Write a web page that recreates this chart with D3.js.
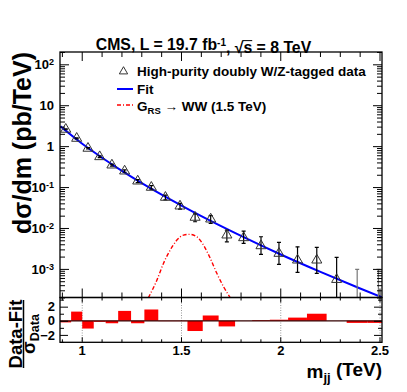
<!DOCTYPE html>
<html>
<head>
<meta charset="utf-8">
<script src="https://cdn.jsdelivr.net/npm/d3@7"></script>
<style>
  body { margin: 0; background: #fff; }
  text { font-family: "Liberation Sans", Arial, Helvetica, sans-serif; font-weight: bold; fill: #000; }
</style>
</head>
<body>
<div id="chart"></div>
<script>
// dijet mass bins (TeV)
const binEdges = [0.890, 0.944, 1.000, 1.058, 1.118, 1.181, 1.246, 1.313, 1.383, 1.455, 1.530,
                  1.607, 1.687, 1.770, 1.856, 1.945, 2.037, 2.132, 2.231, 2.332, 2.438, 2.546];
// dsigma/dm (pb/TeV), 0 = empty bin
const dataValues = [2.58, 1.55, 0.885, 0.551, 0.345, 0.246, 0.140, 0.0984, 0.056, 0.0343, 0.0182,
                    0.0165, 0.00671, 0.00577, 0.00367, 0.00239, 0.00164, 0.00164, 0.00055, 0, 0];
const errHigh = [2.64, 1.59, 0.917, 0.576, 0.364, 0.262, 0.152, 0.108, 0.0633, 0.0398, 0.0222,
                 0.0201, 0.0089, 0.0084, 0.0061, 0.00445, 0.00347, 0.00336, 0.00191, 0.00097, 0.00097];
const errLow = [2.52, 1.51, 0.853, 0.526, 0.326, 0.230, 0.128, 0.0886, 0.0487, 0.0288, 0.0142,
                0.0129, 0.0046, 0.0042, 0.00226, 0.00129, 0.00082, 0.00078, 0, 0, 0];
// (data - fit) / sigma_data per bin
const pullValues = [-0.23, 1.3, -1.1, -0.15, -0.35, 1.4, -0.35, 1.6, -0.05, -0.05, -1.45,
                    0.75, -0.8, 0.0, 0.1, 0.15, 0.45, 1.0, 0.0, -0.3, -0.3];

const fitMass = [0.89, 1.0, 1.1, 1.2, 1.3, 1.4, 1.5, 1.6, 1.8, 2.0, 2.2, 2.4, 2.51];
const fitValues = [3.05, 1.14, 0.521, 0.249, 0.125, 0.0652, 0.0353, 0.0195, 0.00641, 0.00225,
                   0.000845, 0.000332, 0.000202];

const signalMass = [1.333, 1.376, 1.409, 1.443, 1.477, 1.510, 1.540, 1.577, 1.611, 1.645, 1.678, 1.712, 1.746];
const signalValues = [0.000197, 0.00053, 0.00136, 0.00288, 0.00506, 0.00671, 0.00698, 0.00610,
                      0.00382, 0.00181, 0.00078, 0.000366, 0.000197];

const xMajorTicks = [1, 1.5, 2, 2.5];
const xTickLabels = ["1", "1.5", "2", "2.5"];
const yDecades = [100, 10, 1, 0.1, 0.01, 0.001];
const yDecadeLabels = [["10", "2"], ["10", ""], ["1", ""], ["10", "-1"], ["10", "-2"], ["10", "-3"]];
const pullMajorTicks = [-2, 0, 2];
const pullMinorTicks = [-3, -1, 1, 3];

const width = 407, height = 392;
const frame = {left: 60, right: 382, top: 52, split: 297.5, bottom: 342.3};

const svg = d3.select("#chart").append("svg")
    .attr("width", width).attr("height", height)
    .attr("viewBox", [0, 0, width, height]);

svg.append("rect").attr("width", width).attr("height", height).attr("fill", "#fff");

const x = d3.scaleLinear().domain([0.888, 2.51]).range([frame.left, frame.right]);
const y = d3.scaleLog().domain([2e-4, 200]).range([frame.split, frame.top]);
const yPull = d3.scaleLinear().domain([-3.05, 3.3]).range([frame.bottom, frame.split]);

const xMinor = d3.range(9, 26).map(d => d / 10);

const defs = svg.append("defs");
defs.append("clipPath").attr("id", "clipUp")
    .append("rect").attr("x", frame.left).attr("y", frame.top)
    .attr("width", frame.right - frame.left).attr("height", frame.split - frame.top);
defs.append("clipPath").attr("id", "clipLow")
    .append("rect").attr("x", frame.left).attr("y", frame.split)
    .attr("width", frame.right - frame.left).attr("height", frame.bottom - frame.split);

// ---------- upper pad ----------
const up = svg.append("g").attr("clip-path", "url(#clipUp)");

up.append("path")
    .datum(signalMass.map((m, i) => [m, signalValues[i]]))
    .attr("fill", "none")
    .attr("stroke", "#ff0000")
    .attr("stroke-width", 1.4)
    .attr("stroke-dasharray", "4,2,1,2")
    .attr("d", d3.line().x(d => x(d[0])).y(d => y(d[1])).curve(d3.curveMonotoneX));

up.append("path")
    .datum(fitMass.map((m, i) => [m, fitValues[i]]))
    .attr("fill", "none")
    .attr("stroke", "#0000ff")
    .attr("stroke-width", 2)
    .attr("d", d3.line().x(d => x(d[0])).y(d => y(d[1])).curve(d3.curveMonotoneX));

const bins = dataValues.map((v, i) => ({
    m: (binEdges[i] + binEdges[i + 1]) / 2,
    v, hi: errHigh[i], lo: errLow[i], empty: v === 0
}));

const yClamp = v => v <= 0 ? frame.split + 2 : y(v);

const errs = up.append("g").selectAll("g").data(bins).join("g")
    .attr("stroke", d => d.empty ? "#777" : "#000")
    .attr("stroke-width", 1.2);
errs.append("line")
    .attr("x1", d => x(d.m)).attr("x2", d => x(d.m))
    .attr("y1", d => yClamp(d.lo)).attr("y2", d => y(d.hi));
errs.append("line")
    .attr("x1", d => x(d.m) - 2).attr("x2", d => x(d.m) + 2)
    .attr("y1", d => y(d.hi)).attr("y2", d => y(d.hi));
errs.filter(d => d.lo > 0).append("line")
    .attr("x1", d => x(d.m) - 2).attr("x2", d => x(d.m) + 2)
    .attr("y1", d => y(d.lo)).attr("y2", d => y(d.lo));

up.append("g").selectAll("path").data(bins.filter(d => !d.empty)).join("path")
    .attr("transform", d => `translate(${x(d.m)},${y(d.v)})`)
    .attr("d", d3.symbol(d3.symbolTriangle, 44))
    .attr("fill", "none")
    .attr("stroke", "#333")
    .attr("stroke-width", 1);

// ---------- lower pad ----------
const low = svg.append("g").attr("clip-path", "url(#clipLow)");

low.append("g").selectAll("line").data(xMajorTicks).join("line")
    .attr("x1", d => x(d)).attr("x2", d => x(d))
    .attr("y1", frame.split).attr("y2", frame.bottom)
    .attr("stroke", "#999").attr("stroke-width", 1).attr("stroke-dasharray", "1,1.5");

low.append("g").selectAll("rect").data(pullValues).join("rect")
    .attr("x", (d, i) => x(binEdges[i]))
    .attr("width", (d, i) => x(binEdges[i + 1]) - x(binEdges[i]))
    .attr("y", d => yPull(Math.max(0, d)))
    .attr("height", d => Math.abs(yPull(d) - yPull(0)))
    .attr("fill", "#ff0000");

low.append("line")
    .attr("x1", frame.left).attr("x2", frame.right)
    .attr("y1", yPull(0)).attr("y2", yPull(0))
    .attr("stroke", "#300").attr("stroke-width", 1.2);

// ---------- axes ----------
function inwardX(g, yPos, dir, majorLen, minorLen) {
    g.selectAll(null).data(xMinor).join("line")
        .attr("x1", d => x(d)).attr("x2", d => x(d))
        .attr("y1", yPos)
        .attr("y2", d => yPos + dir * (xMajorTicks.some(t => Math.abs(t - d) < 1e-6) ? majorLen : minorLen))
        .attr("stroke", "#000").attr("stroke-width", 1);
}

const axes = svg.append("g");

// log y axis, left (labels) and right (mirror)
const yMinorTicks = y.ticks().filter(t => !yDecades.some(dd => Math.abs(dd - t) / dd < 1e-6));
axes.append("g").attr("transform", `translate(${frame.left},0)`)
    .call(d3.axisLeft(y).tickValues(yMinorTicks).tickSize(-5).tickFormat(""));
const yLeft = axes.append("g").attr("transform", `translate(${frame.left},0)`)
    .call(d3.axisLeft(y).tickValues(yDecades).tickSize(-9).tickPadding(6).tickFormat(""));
yLeft.selectAll(".tick text").each(function(d, i) {
    const lab = yDecadeLabels[i];
    const t = d3.select(this).attr("font-size", 13).attr("fill", "#000");
    t.append("tspan").text(lab[0]);
    if (lab[1]) t.append("tspan").attr("dy", "-0.45em").attr("font-size", 9).text(lab[1]);
});
axes.append("g").attr("transform", `translate(${frame.right},0)`)
    .call(d3.axisRight(y).tickValues(yMinorTicks).tickSize(-5).tickFormat(""));
axes.append("g").attr("transform", `translate(${frame.right},0)`)
    .call(d3.axisRight(y).tickValues(yDecades).tickSize(-9).tickFormat(""));

// pull y axis
axes.append("g").attr("transform", `translate(${frame.left},0)`)
    .call(d3.axisLeft(yPull).tickValues(pullMinorTicks).tickSize(-4).tickFormat(""));
axes.append("g").attr("transform", `translate(${frame.left},0)`)
    .call(d3.axisLeft(yPull).tickValues(pullMajorTicks).tickSize(-8).tickPadding(5).tickFormat(d3.format("d")))
    .selectAll("text").attr("font-size", 13).attr("fill", "#000");
axes.append("g").attr("transform", `translate(${frame.right},0)`)
    .call(d3.axisRight(yPull).tickValues(pullMinorTicks).tickSize(-4).tickFormat(""));
axes.append("g").attr("transform", `translate(${frame.right},0)`)
    .call(d3.axisRight(yPull).tickValues(pullMajorTicks).tickSize(-8).tickFormat(""));

axes.selectAll(".domain").remove();
axes.selectAll(".tick line").attr("stroke", "#000");

// x ticks on all horizontal frame edges
inwardX(axes.append("g"), frame.top, 1, 9, 5);
inwardX(axes.append("g"), frame.split, -1, 9, 5);
inwardX(axes.append("g"), frame.split, 1, 5, 3);
inwardX(axes.append("g"), frame.bottom, -1, 5, 3);

axes.append("g").selectAll("text").data(xMajorTicks).join("text")
    .attr("x", d => x(d)).attr("y", frame.bottom + 13)
    .attr("text-anchor", "middle").attr("font-size", 13)
    .text((d, i) => xTickLabels[i]);

// frames
[[frame.top, frame.split], [frame.split, frame.bottom]].forEach(([t, b]) => {
    svg.append("rect")
        .attr("x", frame.left).attr("y", t)
        .attr("width", frame.right - frame.left).attr("height", b - t)
        .attr("fill", "none").attr("stroke", "#000").attr("stroke-width", 1.3);
});

// ---------- titles ----------
const title = svg.append("text").attr("x", 203.5).attr("y", 50)
    .attr("text-anchor", "middle").attr("font-size", 15.8);
title.append("tspan").text("CMS, L = 19.7 fb");
title.append("tspan").attr("dy", "-0.45em").attr("font-size", 10).text("-1");
title.append("tspan").attr("dy", "0.45em").text(", \u221As = 8 TeV");
// bar of the square root over "s"
const sIndex = "CMS, L = 19.7 fb-1, \u221A".length;
const sBox = title.node().getExtentOfChar(sIndex);
svg.append("line")
    .attr("x1", sBox.x - 1).attr("x2", sBox.x + sBox.width)
    .attr("y1", sBox.y + 2).attr("y2", sBox.y + 2)
    .attr("stroke", "#000").attr("stroke-width", 1);

svg.append("text")
    .attr("transform", `translate(31,${frame.top}) rotate(-90)`)
    .attr("text-anchor", "end").attr("font-size", 25)
    .text("d\u03C3/dm (pb/TeV)");

const xt = svg.append("text").attr("x", frame.right).attr("y", 378)
    .attr("text-anchor", "end").attr("font-size", 19);
xt.append("tspan").text("m");
xt.append("tspan").attr("dy", "0.3em").attr("font-size", 13).text("jj");
xt.append("tspan").attr("dy", "-0.3em").text(" (TeV)");

const pt = svg.append("g").attr("transform", "translate(0,334) rotate(-90)");
pt.append("text").attr("x", 0).attr("y", 21.5)
    .attr("text-anchor", "middle").attr("font-size", 18.5).text("Data-Fit");
pt.append("line").attr("x1", -34).attr("x2", 34).attr("y1", 23.5).attr("y2", 23.5)
    .attr("stroke", "#000").attr("stroke-width", 1.5);
const den = pt.append("text").attr("x", 0).attr("y", 34.5)
    .attr("text-anchor", "middle").attr("font-size", 18.5);
den.append("tspan").text("\u03C3");
den.append("tspan").attr("dy", 4).attr("font-size", 12.5).text("Data");

// ---------- legend ----------
const legend = svg.append("g");
legend.append("path")
    .attr("transform", "translate(123.5,71.5)")
    .attr("d", d3.symbol(d3.symbolTriangle, 30))
    .attr("fill", "none").attr("stroke", "#333").attr("stroke-width", 1);
legend.append("text").attr("x", 137).attr("y", 75.5).attr("font-size", 13.5)
    .text("High-purity doubly W/Z-tagged data");
legend.append("line").attr("x1", 117).attr("x2", 133).attr("y1", 89).attr("y2", 89)
    .attr("stroke", "#0000ff").attr("stroke-width", 2);
legend.append("text").attr("x", 137).attr("y", 93.5).attr("font-size", 13.5).text("Fit");
legend.append("line").attr("x1", 117).attr("x2", 133).attr("y1", 105).attr("y2", 105)
    .attr("stroke", "#ff0000").attr("stroke-width", 1.4).attr("stroke-dasharray", "4,2,1,2");
const sig = legend.append("text").attr("x", 137).attr("y", 110.5).attr("font-size", 13.5);
sig.append("tspan").text("G");
sig.append("tspan").attr("dy", 3.5).attr("font-size", 9.5).text("RS");
sig.append("tspan").attr("dy", -3.5).text(" \u2192 WW (1.5 TeV)");
</script>
</body>
</html>
